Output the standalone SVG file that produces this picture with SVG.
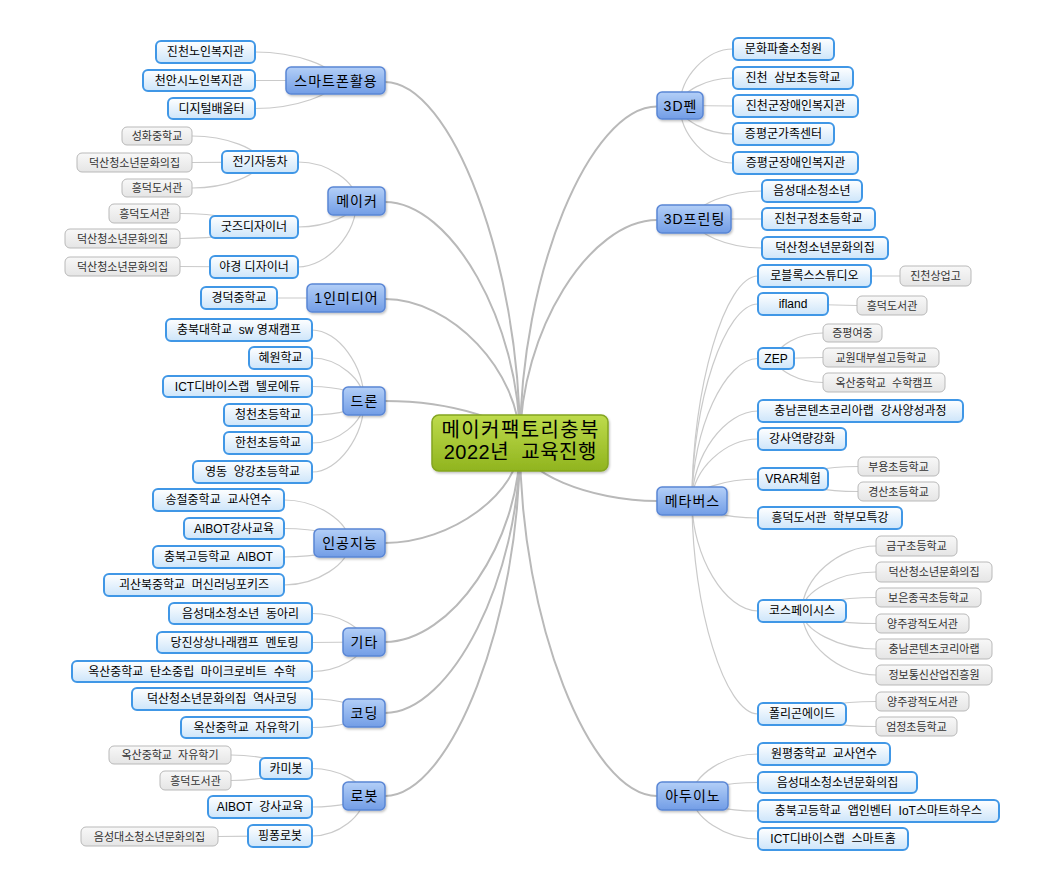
<svg xmlns="http://www.w3.org/2000/svg" width="1062" height="886" viewBox="0 0 1062 886">
<defs>
<linearGradient id="g1" x1="0" y1="0" x2="0" y2="1"><stop offset="0" stop-color="#b3cff7"/><stop offset="1" stop-color="#729de6"/></linearGradient>
<linearGradient id="g2" x1="0" y1="0" x2="0" y2="1"><stop offset="0" stop-color="#ffffff"/><stop offset="1" stop-color="#cde5fa"/></linearGradient>
<linearGradient id="g3" x1="0" y1="0" x2="0" y2="1"><stop offset="0" stop-color="#f8f8f8"/><stop offset="1" stop-color="#e5e5e5"/></linearGradient>
<linearGradient id="g0" x1="0" y1="0" x2="0" y2="1"><stop offset="0" stop-color="#bedb4c"/><stop offset="1" stop-color="#90b41e"/></linearGradient>
<filter id="sh" x="-20%" y="-30%" width="140%" height="170%"><feDropShadow dx="1" dy="1.5" stdDeviation="1" flood-color="#000" flood-opacity="0.25"/></filter>
</defs>
<style>
text { font-family: "Liberation Sans", "Noto Sans CJK KR", sans-serif; text-anchor: middle; white-space: pre; fill: #000; }
.root rect { fill: url(#g0); stroke: #84a520; stroke-width: 1.5; rx: 7px; filter: url(#sh); }
.root text { font-size: 20px; }
.l1 rect { fill: url(#g1); stroke: #5a86d5; stroke-width: 1.5; rx: 5px; filter: url(#sh); }
.l1 text { font-size: 14px; letter-spacing: 1px; }
.l2 rect { fill: url(#g2); stroke: #4097e6; stroke-width: 2; rx: 5px; }
.l2 text { font-size: 12px; }
.l3 rect { fill: url(#g3); stroke: #b9b9b9; stroke-width: 1; rx: 5px; }
.l3 text { font-size: 11px; fill: #333; }
.c1 { fill: none; stroke: #b9b9b9; stroke-width: 2; }
.c2 { fill: none; stroke: #cacaca; stroke-width: 1.2; }
</style>
<g id="connectors">
<g id="main-links">
<path class="c1" d="M385,82 C451,82 520,261.8 520,443"/>
<path class="c1" d="M385,202 C451,202 520,322 520,443"/>
<path class="c1" d="M385,299 C451,299 520,370.5 520,443"/>
<path class="c1" d="M385,401 C451,401 520,422 520,443"/>
<path class="c1" d="M385,543 C451,543 520,493 520,443"/>
<path class="c1" d="M385,642 C451,642 520,542.5 520,443"/>
<path class="c1" d="M385,713 C451,713 520,578 520,443"/>
<path class="c1" d="M385,796 C451,796 520,619.5 520,443"/>
<path class="c1" d="M657,106.5 C590,106.5 520,274.3 520,443"/>
<path class="c1" d="M657,220 C590,220 520,331 520,443"/>
<path class="c1" d="M657,501 C590,501 520,472 520,443"/>
<path class="c1" d="M657,796 C590,796 520,619.5 520,443"/>
</g>
<g id="sub-links">
<path class="c2" d="M255,52 C295.3,52 335.5,66.3 335.5,80.5"/>
<path class="c2" d="M255,80.5 L335.5,80.5"/>
<path class="c2" d="M255,108.5 C295.3,108.5 335.5,94.5 335.5,80.5"/>
<path class="c2" d="M298,162 C327.3,162 356.5,181.5 356.5,201"/>
<path class="c2" d="M298,227 C327.3,227 356.5,214 356.5,201"/>
<path class="c2" d="M298,267 C327.3,267 356.5,234 356.5,201"/>
<path class="c2" d="M192,136 C226,136 260,149 260,162"/>
<path class="c2" d="M192,162.5 L260,162"/>
<path class="c2" d="M192,188 C226,188 260,175 260,162"/>
<path class="c2" d="M180,213.5 C217,213.5 254,220.3 254,227"/>
<path class="c2" d="M180,238.5 C217,238.5 254,232.8 254,227"/>
<path class="c2" d="M180,266.5 L254,267"/>
<path class="c2" d="M277,298 L346,298"/>
<path class="c2" d="M312,330 C338,330 364,365.5 364,401"/>
<path class="c2" d="M312,358 C338,358 364,379.5 364,401"/>
<path class="c2" d="M312,386.5 C338,386.5 364,393.8 364,401"/>
<path class="c2" d="M312,415 C338,415 364,408 364,401"/>
<path class="c2" d="M312,443 C338,443 364,422 364,401"/>
<path class="c2" d="M312,472 C338,472 364,436.5 364,401"/>
<path class="c2" d="M284,500 C316.8,500 349.5,521.5 349.5,543"/>
<path class="c2" d="M284,528.5 C316.8,528.5 349.5,535.8 349.5,543"/>
<path class="c2" d="M284,557 C316.8,557 349.5,550 349.5,543"/>
<path class="c2" d="M284,585 C316.8,585 349.5,564 349.5,543"/>
<path class="c2" d="M312,613.5 C338,613.5 364,627.8 364,642"/>
<path class="c2" d="M312,642.5 L364,642"/>
<path class="c2" d="M312,671.5 C338,671.5 364,656.8 364,642"/>
<path class="c2" d="M312,699 C338,699 364,706 364,713"/>
<path class="c2" d="M312,727.5 C338,727.5 364,720.3 364,713"/>
<path class="c2" d="M312,768.5 C338,768.5 364,782.3 364,796"/>
<path class="c2" d="M312,807 C338,807 364,801.5 364,796"/>
<path class="c2" d="M312,836 C338,836 364,816 364,796"/>
<path class="c2" d="M231,755 C258.5,755 286,761.8 286,768.5"/>
<path class="c2" d="M231,780.5 C258.5,780.5 286,774.5 286,768.5"/>
<path class="c2" d="M218,836.5 L280,836"/>
<path class="c2" d="M733,49 C706.5,49 680,77.3 680,105.5"/>
<path class="c2" d="M733,78 C706.5,78 680,91.8 680,105.5"/>
<path class="c2" d="M733,106 L680,105.5"/>
<path class="c2" d="M733,134 C706.5,134 680,119.8 680,105.5"/>
<path class="c2" d="M733,163 C706.5,163 680,134.3 680,105.5"/>
<path class="c2" d="M762,191 C728,191 694,205 694,219"/>
<path class="c2" d="M762,219 L694,219"/>
<path class="c2" d="M762,248 C728,248 694,233.5 694,219"/>
<path class="c2" d="M758,276 C725,276 692,388.5 692,501"/>
<path class="c2" d="M758,304 C725,304 692,402.5 692,501"/>
<path class="c2" d="M758,358.5 C725,358.5 692,429.8 692,501"/>
<path class="c2" d="M758,411 C725,411 692,456 692,501"/>
<path class="c2" d="M758,439 C725,439 692,470 692,501"/>
<path class="c2" d="M758,479 C725,479 692,490 692,501"/>
<path class="c2" d="M758,518 C725,518 692,509.5 692,501"/>
<path class="c2" d="M758,611 C725,611 692,556 692,501"/>
<path class="c2" d="M758,714 C725,714 692,607.5 692,501"/>
<path class="c2" d="M900,276 L814.5,276"/>
<path class="c2" d="M857,305.5 L793,304"/>
<path class="c2" d="M823,333 C799.5,333 776,345.8 776,358.5"/>
<path class="c2" d="M823,357.5 L776,358.5"/>
<path class="c2" d="M823,382.5 C799.5,382.5 776,370.5 776,358.5"/>
<path class="c2" d="M858,466.5 C825.5,466.5 793,472.8 793,479"/>
<path class="c2" d="M858,491.5 C825.5,491.5 793,485.3 793,479"/>
<path class="c2" d="M876,546 C839,546 802,578.5 802,611"/>
<path class="c2" d="M876,572 C839,572 802,591.5 802,611"/>
<path class="c2" d="M876,597.5 C839,597.5 802,604.3 802,611"/>
<path class="c2" d="M876,623.5 C839,623.5 802,617.3 802,611"/>
<path class="c2" d="M876,649 C839,649 802,630 802,611"/>
<path class="c2" d="M876,675 C839,675 802,643 802,611"/>
<path class="c2" d="M876,701.5 C839,701.5 802,707.8 802,714"/>
<path class="c2" d="M876,726.5 C839,726.5 802,720.3 802,714"/>
<path class="c2" d="M758,754 C725.3,754 692.5,775 692.5,796"/>
<path class="c2" d="M758,782.5 C725.3,782.5 692.5,789.3 692.5,796"/>
<path class="c2" d="M758,811 C725.3,811 692.5,803.5 692.5,796"/>
<path class="c2" d="M758,839 C725.3,839 692.5,817.5 692.5,796"/>
</g>
</g>
<g id="root" class="root"><rect x="432" y="415" width="176" height="56"/><text x="520.7" y="436.5" style="letter-spacing:1.4px">메이커팩토리충북</text><text x="520.3" y="458.5" style="letter-spacing:0.5px">2022년  교육진행</text></g>
<g id="smartphone" class="l1"><rect x="286" y="67" width="99" height="27"/><text x="336" y="85.5">스마트폰활용</text></g>
<g id="maker" class="l1"><rect x="328" y="187" width="57" height="28"/><text x="357" y="206">메이커</text></g>
<g id="media" class="l1"><rect x="307" y="284" width="78" height="28"/><text x="346.5" y="303">1인미디어</text></g>
<g id="drone" class="l1"><rect x="343" y="387" width="42" height="28"/><text x="364.5" y="406">드론</text></g>
<g id="ai" class="l1"><rect x="314" y="529" width="71" height="28"/><text x="350" y="548">인공지능</text></g>
<g id="etc" class="l1"><rect x="343" y="628" width="42" height="28"/><text x="364.5" y="647">기타</text></g>
<g id="coding" class="l1"><rect x="343" y="699" width="42" height="28"/><text x="364.5" y="718">코딩</text></g>
<g id="robot" class="l1"><rect x="343" y="782" width="42" height="28"/><text x="364.5" y="801">로봇</text></g>
<g id="pen3d" class="l1"><rect x="657" y="92" width="46" height="27"/><text x="680.5" y="110.5">3D펜</text></g>
<g id="print3d" class="l1"><rect x="657" y="205" width="74" height="28"/><text x="694.5" y="224">3D프린팅</text></g>
<g id="metaverse" class="l1"><rect x="657" y="487" width="70" height="28"/><text x="692.5" y="506">메타버스</text></g>
<g id="arduino" class="l1"><rect x="657" y="782" width="71" height="28"/><text x="693" y="801">아두이노</text></g>
<g id="s1" class="l2"><rect x="156" y="41" width="99" height="22"/><text x="205.5" y="56.3">진천노인복지관</text></g>
<g id="s2" class="l2"><rect x="143" y="70" width="112" height="21"/><text x="199" y="84.8">천안시노인복지관</text></g>
<g id="s3" class="l2"><rect x="168" y="98" width="87" height="21"/><text x="211.5" y="112.8">디지털배움터</text></g>
<g id="m1" class="l2"><rect x="222" y="151" width="76" height="22"/><text x="260" y="166.3">전기자동차</text></g>
<g id="m2" class="l2"><rect x="210" y="216" width="88" height="22"/><text x="254" y="231.3">굿즈디자이너</text></g>
<g id="m3" class="l2"><rect x="210" y="256" width="88" height="22"/><text x="254" y="271.3">야경 디자이너</text></g>
<g id="m1a" class="l3"><rect x="122" y="127" width="70" height="18"/><text x="157" y="140">성화중학교</text></g>
<g id="m1b" class="l3"><rect x="77" y="153" width="115" height="19"/><text x="134.5" y="166.5">덕산청소년문화의집</text></g>
<g id="m1c" class="l3"><rect x="122" y="179" width="70" height="18"/><text x="157" y="192">흥덕도서관</text></g>
<g id="m2a" class="l3"><rect x="109" y="204" width="71" height="19"/><text x="144.5" y="217.5">흥덕도서관</text></g>
<g id="m2b" class="l3"><rect x="65" y="229" width="115" height="19"/><text x="122.5" y="242.5">덕산청소년문화의집</text></g>
<g id="m3a" class="l3"><rect x="65" y="257" width="115" height="19"/><text x="122.5" y="270.5">덕산청소년문화의집</text></g>
<g id="md1" class="l2"><rect x="201" y="287" width="76" height="22"/><text x="239" y="302.3">경덕중학교</text></g>
<g id="d1" class="l2"><rect x="166" y="319" width="146" height="22"/><text x="239" y="334.3">충북대학교  sw 영재캠프</text></g>
<g id="d2" class="l2"><rect x="249" y="347" width="63" height="22"/><text x="280.5" y="362.3">혜원학교</text></g>
<g id="d3" class="l2"><rect x="163" y="376" width="149" height="21"/><text x="237.5" y="390.8">ICT디바이스랩  텔로에듀</text></g>
<g id="d4" class="l2"><rect x="224" y="404" width="88" height="22"/><text x="268" y="419.3">청천초등학교</text></g>
<g id="d5" class="l2"><rect x="224" y="432" width="88" height="22"/><text x="268" y="447.3">한천초등학교</text></g>
<g id="d6" class="l2"><rect x="193" y="461" width="119" height="22"/><text x="252.5" y="476.3">영동  양강초등학교</text></g>
<g id="a1" class="l2"><rect x="153" y="489" width="131" height="22"/><text x="218.5" y="504.3">송절중학교  교사연수</text></g>
<g id="a2" class="l2"><rect x="184" y="518" width="100" height="21"/><text x="234" y="532.8">AIBOT강사교육</text></g>
<g id="a3" class="l2"><rect x="153" y="546" width="131" height="22"/><text x="218.5" y="561.3">충북고등학교  AIBOT</text></g>
<g id="a4" class="l2"><rect x="104" y="574" width="180" height="22"/><text x="194" y="589.3">괴산북중학교  머신러닝포키즈</text></g>
<g id="e1" class="l2"><rect x="169" y="603" width="143" height="21"/><text x="240.5" y="617.8">음성대소청소년  동아리</text></g>
<g id="e2" class="l2"><rect x="157" y="632" width="155" height="21"/><text x="234.5" y="646.8">당진상상나래캠프  멘토링</text></g>
<g id="e3" class="l2"><rect x="72" y="661" width="240" height="21"/><text x="192" y="675.8">옥산중학교  탄소중립  마이크로비트  수학</text></g>
<g id="c1" class="l2"><rect x="132" y="688" width="180" height="22"/><text x="222" y="703.3">덕산청소년문화의집  역사코딩</text></g>
<g id="c2" class="l2"><rect x="181" y="717" width="131" height="21"/><text x="246.5" y="731.8">옥산중학교  자유학기</text></g>
<g id="r1" class="l2"><rect x="260" y="758" width="52" height="21"/><text x="286" y="772.8">카미봇</text></g>
<g id="r2" class="l2"><rect x="208" y="796" width="104" height="22"/><text x="260" y="811.3">AIBOT  강사교육</text></g>
<g id="r3" class="l2"><rect x="248" y="825" width="64" height="22"/><text x="280" y="840.3">핑퐁로봇</text></g>
<g id="r1a" class="l3"><rect x="109" y="746" width="122" height="18"/><text x="170" y="759">옥산중학교  자유학기</text></g>
<g id="r1b" class="l3"><rect x="160" y="771" width="71" height="19"/><text x="195.5" y="784.5">흥덕도서관</text></g>
<g id="r3a" class="l3"><rect x="81" y="827" width="137" height="19"/><text x="149.5" y="840.5">음성대소청소년문화의집</text></g>
<g id="p1" class="l2"><rect x="733" y="38" width="101" height="22"/><text x="783.5" y="53.3">문화파출소청원</text></g>
<g id="p2" class="l2"><rect x="733" y="67" width="120" height="22"/><text x="793" y="82.3">진천  삼보초등학교</text></g>
<g id="p3" class="l2"><rect x="733" y="95" width="125" height="22"/><text x="795.5" y="110.3">진천군장애인복지관</text></g>
<g id="p4" class="l2"><rect x="733" y="123" width="101" height="22"/><text x="783.5" y="138.3">증평군가족센터</text></g>
<g id="p5" class="l2"><rect x="733" y="152" width="125" height="22"/><text x="795.5" y="167.3">증평군장애인복지관</text></g>
<g id="t1" class="l2"><rect x="762" y="180" width="100" height="22"/><text x="812" y="195.3">음성대소청소년</text></g>
<g id="t2" class="l2"><rect x="762" y="208" width="113" height="22"/><text x="818.5" y="223.3">진천구정초등학교</text></g>
<g id="t3" class="l2"><rect x="762" y="237" width="126" height="22"/><text x="825" y="252.3">덕산청소년문화의집</text></g>
<g id="v1" class="l2"><rect x="758" y="265" width="113" height="22"/><text x="814.5" y="280.3">로블록스스튜디오</text></g>
<g id="v2" class="l2"><rect x="758" y="293" width="70" height="22"/><text x="793" y="308.3">ifland</text></g>
<g id="v3" class="l2"><rect x="758" y="348" width="36" height="21"/><text x="776" y="362.8">ZEP</text></g>
<g id="v4" class="l2"><rect x="758" y="400" width="205" height="22"/><text x="860.5" y="415.3">충남콘텐츠코리아랩  강사양성과정</text></g>
<g id="v5" class="l2"><rect x="758" y="428" width="88" height="22"/><text x="802" y="443.3">강사역량강화</text></g>
<g id="v6" class="l2"><rect x="758" y="468" width="70" height="22"/><text x="793" y="483.3">VRAR체험</text></g>
<g id="v7" class="l2"><rect x="758" y="507" width="144" height="22"/><text x="830" y="522.3">흥덕도서관  학부모특강</text></g>
<g id="v8" class="l2"><rect x="758" y="600" width="88" height="22"/><text x="802" y="615.3">코스페이시스</text></g>
<g id="v9" class="l2"><rect x="758" y="703" width="88" height="22"/><text x="802" y="718.3">폴리곤에이드</text></g>
<g id="v1a" class="l3"><rect x="900" y="266" width="71" height="20"/><text x="935.5" y="280">진천상업고</text></g>
<g id="v2a" class="l3"><rect x="857" y="296" width="70" height="19"/><text x="892" y="309.5">흥덕도서관</text></g>
<g id="v3a" class="l3"><rect x="823" y="324" width="59" height="18"/><text x="852.5" y="337">증평여중</text></g>
<g id="v3b" class="l3"><rect x="823" y="348" width="116" height="19"/><text x="881" y="361.5">교원대부설고등학교</text></g>
<g id="v3c" class="l3"><rect x="823" y="373" width="122" height="19"/><text x="884" y="386.5">옥산중학교  수학캠프</text></g>
<g id="v6a" class="l3"><rect x="858" y="457" width="81" height="19"/><text x="898.5" y="470.5">부용초등학교</text></g>
<g id="v6b" class="l3"><rect x="858" y="482" width="81" height="19"/><text x="898.5" y="495.5">경산초등학교</text></g>
<g id="v8a" class="l3"><rect x="876" y="536" width="81" height="20"/><text x="916.5" y="550">금구초등학교</text></g>
<g id="v8b" class="l3"><rect x="876" y="562" width="116" height="20"/><text x="934" y="576">덕산청소년문화의집</text></g>
<g id="v8c" class="l3"><rect x="876" y="588" width="105" height="19"/><text x="928.5" y="601.5">보은종곡초등학교</text></g>
<g id="v8d" class="l3"><rect x="876" y="614" width="93" height="19"/><text x="922.5" y="627.5">양주광적도서관</text></g>
<g id="v8e" class="l3"><rect x="876" y="639" width="116" height="20"/><text x="934" y="653">충남콘텐츠코리아랩</text></g>
<g id="v8f" class="l3"><rect x="876" y="665" width="116" height="20"/><text x="934" y="679">정보통신산업진흥원</text></g>
<g id="v9a" class="l3"><rect x="876" y="692" width="93" height="19"/><text x="922.5" y="705.5">양주광적도서관</text></g>
<g id="v9b" class="l3"><rect x="876" y="717" width="81" height="19"/><text x="916.5" y="730.5">엄정초등학교</text></g>
<g id="u1" class="l2"><rect x="758" y="743" width="132" height="22"/><text x="824" y="758.3">원평중학교  교사연수</text></g>
<g id="u2" class="l2"><rect x="758" y="772" width="159" height="21"/><text x="837.5" y="786.8">음성대소청소년문화의집</text></g>
<g id="u3" class="l2"><rect x="758" y="800" width="241" height="22"/><text x="878.5" y="815.3">충북고등학교  앱인벤터  IoT스마트하우스</text></g>
<g id="u4" class="l2"><rect x="758" y="828" width="150" height="22"/><text x="833" y="843.3">ICT디바이스랩  스마트홈</text></g>
</svg>
